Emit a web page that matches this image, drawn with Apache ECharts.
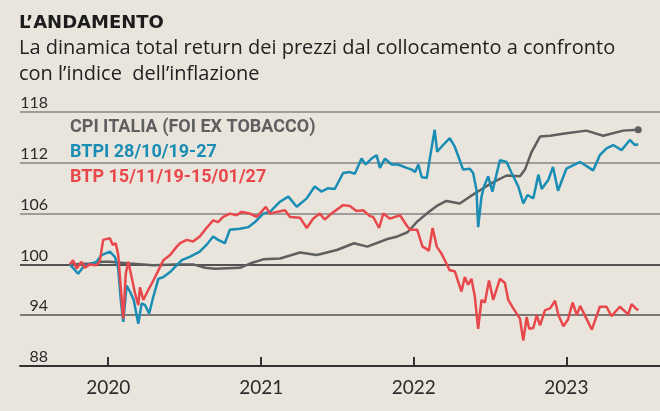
<!DOCTYPE html>
<html style="height: 100%">
<head>
<meta charset="utf-8">
<script src="https://cdn.jsdelivr.net/npm/echarts@6/dist/echarts.min.js"></script>
</head>
<body style="height: 100%; margin: 0; background: #e9e5dd">
<div id="container" style="width: 660px; height: 411px"></div>
<script type="text/javascript">
// index = 100 at the start
var cpi = [
    ['2019-10-01', 100.0], ['2019-11-18', 100.1], ['2019-12-19', 100.3], ['2020-01-05', 100.3],
    ['2020-02-22', 100.1], ['2020-04-17', 99.9], ['2020-06-09', 100.0], ['2020-07-22', 100.0],
    ['2020-08-20', 99.6], ['2020-09-13', 99.5], ['2020-11-11', 99.6], ['2020-12-05', 100.1],
    ['2021-01-06', 100.6], ['2021-02-15', 100.7], ['2021-04-04', 101.4], ['2021-05-14', 101.1],
    ['2021-07-01', 101.7], ['2021-08-11', 102.5], ['2021-09-12', 102.1], ['2021-10-30', 103.0],
    ['2021-11-23', 103.3], ['2021-12-17', 103.8], ['2022-01-08', 105.0], ['2022-02-01', 106.0],
    ['2022-02-25', 106.9], ['2022-03-20', 107.5], ['2022-04-21', 107.2], ['2022-05-15', 108.0],
    ['2022-06-16', 109.0], ['2022-07-14', 109.8], ['2022-08-11', 110.5], ['2022-09-12', 110.4],
    ['2022-09-24', 111.2], ['2022-10-10', 113.3], ['2022-10-30', 115.1], ['2022-11-23', 115.2],
    ['2023-01-01', 115.5], ['2023-02-18', 115.8], ['2023-03-30', 115.2], ['2023-05-17', 115.8],
    ['2023-06-22', 115.9]
];

var btpi = [
    ['2019-10-01', 100.0], ['2019-10-21', 98.9], ['2019-11-02', 99.7], ['2019-11-18', 100.0],
    ['2019-12-04', 100.3], ['2019-12-16', 101.1], ['2020-01-05', 101.5], ['2020-01-17', 100.9],
    ['2020-01-25', 99.5], ['2020-01-31', 95.8], ['2020-02-06', 93.2], ['2020-02-14', 97.5],
    ['2020-02-22', 96.8], ['2020-03-02', 95.8], ['2020-03-13', 93.0], ['2020-03-21', 95.4],
    ['2020-03-29', 95.2], ['2020-04-08', 94.2], ['2020-04-18', 96.2], ['2020-04-30', 98.3],
    ['2020-05-12', 98.5], ['2020-05-28', 99.1], ['2020-06-09', 99.7], ['2020-06-25', 100.5],
    ['2020-07-14', 100.9], ['2020-08-07', 101.5], ['2020-08-23', 102.3], ['2020-09-08', 103.3],
    ['2020-09-20', 102.9], ['2020-10-06', 102.5], ['2020-10-18', 104.1], ['2020-11-11', 104.2],
    ['2020-12-01', 104.4], ['2020-12-17', 105.0], ['2021-01-06', 106.0], ['2021-01-22', 106.2],
    ['2021-02-15', 107.4], ['2021-03-07', 108.0], ['2021-03-27', 106.8], ['2021-04-20', 107.8],
    ['2021-05-09', 109.2], ['2021-05-25', 108.6], ['2021-06-10', 109.0], ['2021-06-26', 108.9],
    ['2021-07-16', 110.8], ['2021-08-01', 110.9], ['2021-08-13', 110.7], ['2021-08-29', 112.5],
    ['2021-09-08', 111.8], ['2021-09-22', 112.5], ['2021-10-04', 112.9], ['2021-10-12', 111.4],
    ['2021-10-24', 112.5], ['2021-11-09', 111.8], ['2021-11-24', 111.8], ['2021-12-15', 111.4],
    ['2021-12-27', 111.2], ['2022-01-04', 110.9], ['2022-01-12', 111.8], ['2022-01-20', 110.3],
    ['2022-02-01', 110.2], ['2022-02-09', 112.7], ['2022-02-20', 115.9], ['2022-02-26', 113.3],
    ['2022-03-12', 114.1], ['2022-03-28', 114.9], ['2022-04-09', 113.9], ['2022-04-21', 112.3],
    ['2022-04-29', 111.2], ['2022-05-15', 111.3], ['2022-05-23', 110.8], ['2022-05-31', 108.8],
    ['2022-06-04', 104.4], ['2022-06-12', 108.0], ['2022-06-18', 109.2], ['2022-06-28', 110.4],
    ['2022-07-08', 108.6], ['2022-07-26', 112.3], ['2022-08-11', 112.1], ['2022-08-23', 110.8],
    ['2022-09-08', 109.2], ['2022-09-20', 107.2], ['2022-09-30', 108.2], ['2022-10-14', 107.8],
    ['2022-10-26', 110.6], ['2022-11-03', 108.9], ['2022-11-19', 110.0], ['2022-11-30', 111.5],
    ['2022-12-12', 108.7], ['2023-01-01', 111.3], ['2023-02-03', 112.1], ['2023-03-06', 111.1],
    ['2023-03-22', 112.9], ['2023-04-07', 113.7], ['2023-04-23', 114.1], ['2023-05-13', 113.5],
    ['2023-06-02', 114.7], ['2023-06-14', 114.1], ['2023-06-22', 114.2]
];

var btp = [
    ['2019-10-01', 100.0], ['2019-10-09', 100.5], ['2019-10-17', 99.5], ['2019-10-29', 100.3],
    ['2019-11-06', 99.6], ['2019-11-18', 100.0], ['2019-12-04', 99.9], ['2019-12-12', 100.4],
    ['2019-12-20', 102.9], ['2020-01-05', 103.1], ['2020-01-12', 102.3], ['2020-01-19', 102.5],
    ['2020-01-25', 101.1], ['2020-01-31', 97.3], ['2020-02-06', 93.6], ['2020-02-12', 98.9],
    ['2020-02-18', 100.3], ['2020-02-26', 98.5], ['2020-03-05', 96.6], ['2020-03-13', 95.2],
    ['2020-03-17', 97.3], ['2020-03-25', 95.8], ['2020-04-06', 97.0], ['2020-04-18', 98.1],
    ['2020-04-30', 99.3], ['2020-05-12', 100.5], ['2020-05-28', 101.1], ['2020-06-13', 102.1],
    ['2020-06-21', 102.5], ['2020-07-07', 102.9], ['2020-07-22', 102.7], ['2020-08-07', 103.3],
    ['2020-08-23', 104.3], ['2020-09-08', 105.2], ['2020-09-20', 105.0], ['2020-10-02', 105.6],
    ['2020-10-18', 106.0], ['2020-11-03', 105.8], ['2020-11-15', 106.2], ['2020-12-05', 106.0],
    ['2020-12-21', 105.6], ['2021-01-12', 106.8], ['2021-01-22', 106.0], ['2021-02-07', 106.2],
    ['2021-02-27', 106.4], ['2021-03-11', 105.6], ['2021-04-04', 105.5], ['2021-04-20', 104.3],
    ['2021-05-05', 105.4], ['2021-05-21', 106.0], ['2021-06-02', 105.3], ['2021-06-18', 106.0],
    ['2021-07-16', 107.0], ['2021-08-01', 106.9], ['2021-08-17', 106.3], ['2021-09-02', 106.4],
    ['2021-09-18', 105.7], ['2021-09-26', 105.6], ['2021-10-10', 104.3], ['2021-10-20', 106.0],
    ['2021-11-05', 105.4], ['2021-11-29', 105.8], ['2021-12-15', 104.6], ['2021-12-23', 104.1],
    ['2022-01-09', 104.1], ['2022-01-22', 102.1], ['2022-02-01', 101.8], ['2022-02-06', 101.6],
    ['2022-02-15', 104.3], ['2022-02-25', 102.1], ['2022-03-08', 101.3], ['2022-03-20', 100.1],
    ['2022-03-28', 99.3], ['2022-04-09', 99.2], ['2022-04-25', 96.8], ['2022-05-03', 98.5],
    ['2022-05-11', 97.6], ['2022-05-19', 98.3], ['2022-05-27', 96.2], ['2022-06-04', 92.4],
    ['2022-06-12', 95.8], ['2022-06-20', 95.5], ['2022-06-30', 98.1], ['2022-07-10', 95.8],
    ['2022-07-26', 98.3], ['2022-08-07', 97.8], ['2022-08-15', 95.8], ['2022-08-27', 94.8],
    ['2022-09-12', 93.6], ['2022-09-20', 91.0], ['2022-09-28', 93.8], ['2022-10-04', 92.4],
    ['2022-10-14', 92.5], ['2022-10-22', 94.0], ['2022-10-30', 92.8], ['2022-11-11', 94.6],
    ['2022-11-23', 94.8], ['2022-12-05', 95.7], ['2022-12-13', 94.0], ['2022-12-25', 92.7],
    ['2023-01-05', 93.5], ['2023-01-16', 95.5], ['2023-01-26', 94.0], ['2023-02-03', 95.1],
    ['2023-03-03', 92.3], ['2023-03-22', 95.0], ['2023-04-07', 95.0], ['2023-04-19', 93.9],
    ['2023-05-09', 95.0], ['2023-05-29', 94.1], ['2023-06-06', 95.3], ['2023-06-16', 94.8],
    ['2023-06-22', 94.6]
];

var seriesNames = ['CPI ITALIA (FOI EX TOBACCO)', 'BTPI 28/10/19-27', 'BTP 15/11/19-15/01/27'];
var seriesColors = ['#5f5f5f', '#1a8db4', '#e8484b'];
var yearTicks = [2020, 2021, 2022, 2023];
var xStart = '2019-06-04', xEnd = '2023-08-13';
var yMin = 88, yMax = 118, yStep = 6;

function ts(s) {
    var p = s.split('-');
    return new Date(+p[0], +p[1] - 1, +p[2]).getTime();
}
function toPoints(rows) {
    return rows.map(function (r) { return [ts(r[0]), r[1]]; });
}
var yearStamps = yearTicks.map(function (y) { return new Date(y, 0, 1).getTime(); });
var cpiPts = toPoints(cpi);

var dom = document.getElementById('container');
var myChart = echarts.init(dom);

var option = {
    backgroundColor: '#e9e5dd',
    animation: false,
    title: {
        text: 'L\u2019ANDAMENTO',
        subtext: 'La dinamica total return dei prezzi dal collocamento a confronto\ncon l\u2019indice  dell\u2019inflazione',
        left: 14,
        top: 9,
        itemGap: 3,
        textStyle: {
            fontFamily: 'DejaVu Sans',
            fontWeight: 'bold',
            fontSize: 18,
            color: '#1c1c1c'
        },
        subtextStyle: {
            fontFamily: 'Open Sans',
            fontSize: 20,
            lineHeight: 26,
            color: '#222'
        }
    },
    legend: {
        orient: 'vertical',
        left: 60,
        top: 112,
        icon: 'none',
        itemWidth: 0,
        itemGap: 5,
        selectedMode: false,
        textStyle: {
            fontFamily: 'Roboto',
            fontWeight: 'bold',
            fontSize: 18,
            lineHeight: 20
        },
        data: seriesNames.map(function (n, i) {
            return { name: n, textStyle: { color: seriesColors[i] } };
        })
    },
    grid: {
        left: 20,
        right: 0,
        top: 112,
        bottom: 45
    },
    xAxis: {
        type: 'value',
        min: ts(xStart),
        max: ts(xEnd),
        axisLine: { lineStyle: { color: '#333', width: 2 } },
        axisTick: {
            inside: true,
            length: 9,
            customValues: yearStamps,
            lineStyle: { color: '#333', width: 2 }
        },
        axisLabel: {
            customValues: yearStamps,
            margin: 12,
            fontFamily: 'Lato',
            fontSize: 19,
            color: '#2a2a2a',
            formatter: function (v) { return String(new Date(v).getFullYear()); }
        },
        splitLine: { show: false }
    },
    yAxis: {
        type: 'value',
        min: yMin,
        max: yMax,
        interval: yStep,
        axisLine: { show: false },
        axisTick: { show: false },
        axisLabel: {
            inside: true,
            margin: 28,
            align: 'right',
            verticalAlign: 'bottom',
            padding: [0, 0, 1, 0],
            showMinLabel: true,
            showMaxLabel: true,
            fontFamily: 'Lato',
            fontSize: 16,
            color: '#2a2a2a'
        },
        splitLine: {
            lineStyle: {
                width: 1.6,
                color: ['#333', '#555', '#222', '#858585', '#858585', '#858585']
            }
        }
    },
    series: [{
        name: seriesNames[0],
        type: 'line',
        data: cpiPts,
        showSymbol: false,
        color: seriesColors[0],
        lineStyle: { width: 2.5 },
        markPoint: {
            symbol: 'circle',
            symbolSize: 7,
            label: { show: false },
            itemStyle: { color: seriesColors[0] },
            data: [{ coord: cpiPts[cpiPts.length - 1] }]
        }
    }, {
        name: seriesNames[1],
        type: 'line',
        data: toPoints(btpi),
        showSymbol: false,
        color: seriesColors[1],
        lineStyle: { width: 2.5 }
    }, {
        name: seriesNames[2],
        type: 'line',
        data: toPoints(btp),
        showSymbol: false,
        color: seriesColors[2],
        lineStyle: { width: 2.5 }
    }]
};

myChart.setOption(option);
</script>
</body>
</html>
